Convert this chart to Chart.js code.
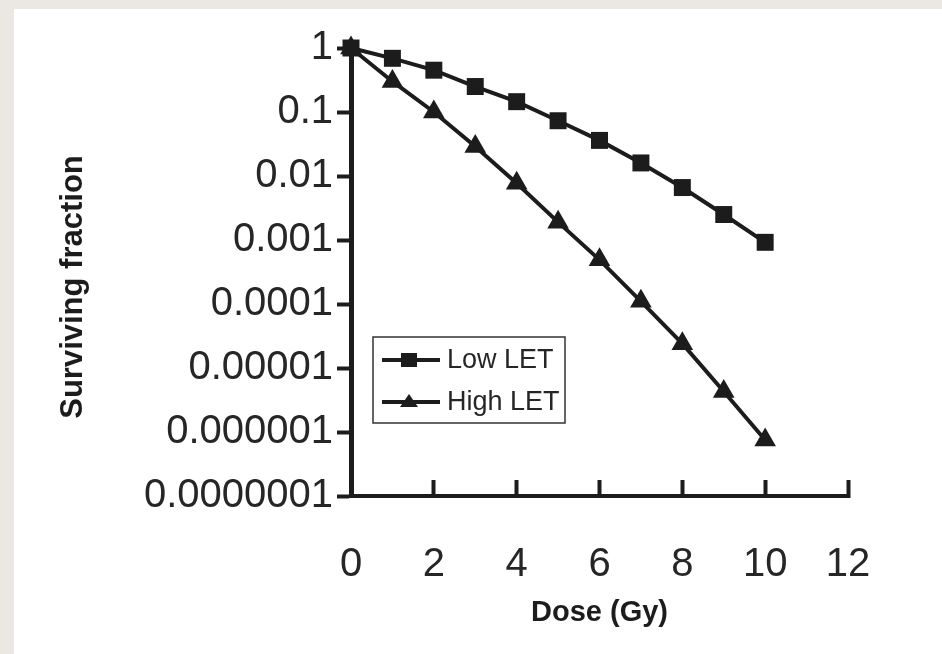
<!DOCTYPE html>
<html>
<head>
<meta charset="utf-8">
<script src="https://cdn.jsdelivr.net/npm/chart.js@4"></script>
<style>
  html, body { margin: 0; padding: 0; background: #ebe8e3; }
  #wrap { position: absolute; left: 14px; top: 9px; width: 928px; height: 645px; background: #fff; }
</style>
</head>
<body>
<div id="wrap"><canvas id="chart"></canvas></div>
<script>
// data
const doses = [0, 1, 2, 3, 4, 5, 6, 7, 8, 9, 10];
const lowLET = [1, 0.69, 0.45, 0.25, 0.145, 0.073, 0.036, 0.016, 0.0066, 0.0025, 0.00092];
const highLET = [1, 0.30, 0.10, 0.029, 0.0077, 0.0019, 0.00049, 0.00011, 0.000024, 0.0000043, 0.00000075];
const seriesNames = ['Low LET', 'High LET'];

const xTicks = [0, 2, 4, 6, 8, 10, 12];
const yTicks = [1, 0.1, 0.01, 0.001, 0.0001, 0.00001, 0.000001, 0.0000001];
const yTickLabels = ['1', '0.1', '0.01', '0.001', '0.0001', '0.00001', '0.000001', '0.0000001'];

const ink = '#1c1c1c';
const textInk = '#262626';
const sans = "'Liberation Sans', Arial, Helvetica, sans-serif";

// legend box sitting inside the plot, plus the rotated y title
const extras = {
  id: 'extras',
  afterDraw(chart) {
    const ctx = chart.ctx;
    const a = chart.chartArea;

    ctx.save();
    ctx.translate(59, (a.top + a.bottom) / 2 + 15);
    ctx.rotate(-Math.PI / 2);
    ctx.fillStyle = ink;
    ctx.font = 'bold 31px ' + sans;
    ctx.textAlign = 'center';
    ctx.textBaseline = 'middle';
    ctx.fillText('Surviving fraction', 0, 0);
    ctx.restore();

    const x0 = a.left + 22, y0 = a.top + 289, w = 192, h = 86;
    ctx.save();
    ctx.fillStyle = '#fff';
    ctx.fillRect(x0, y0, w, h);
    ctx.strokeStyle = '#333';
    ctx.lineWidth = 1.5;
    ctx.strokeRect(x0, y0, w, h);

    chart.data.datasets.forEach((ds, i) => {
      const cy = y0 + 23 + i * 42;
      ctx.strokeStyle = ds.borderColor;
      ctx.lineWidth = 4;
      ctx.beginPath();
      ctx.moveTo(x0 + 9, cy);
      ctx.lineTo(x0 + 67, cy);
      ctx.stroke();
      ctx.fillStyle = ds.backgroundColor;
      const mx = x0 + 36;
      if (ds.pointStyle === 'rect') {
        ctx.fillRect(mx - 8, cy - 7, 16, 14);
      } else {
        ctx.beginPath();
        ctx.moveTo(mx, cy - 8);
        ctx.lineTo(mx + 9, cy + 5);
        ctx.lineTo(mx - 9, cy + 5);
        ctx.closePath();
        ctx.fill();
      }
      ctx.fillStyle = textInk;
      ctx.font = '27px ' + sans;
      ctx.textAlign = 'left';
      ctx.textBaseline = 'middle';
      ctx.fillText(ds.label, x0 + 74, cy + 1);
    });
    ctx.restore();
  }
};

new Chart(document.getElementById('chart'), {
  type: 'line',
  data: {
    datasets: [
      {
        label: seriesNames[0],
        data: doses.map((d, i) => ({ x: d, y: lowLET[i] })),
        borderColor: ink,
        backgroundColor: ink,
        borderWidth: 4,
        pointStyle: 'rect',
        pointRadius: 12,
        pointBorderWidth: 0,
        tension: 0,
        clip: false
      },
      {
        label: seriesNames[1],
        data: doses.map((d, i) => ({ x: d, y: highLET[i] })),
        borderColor: ink,
        backgroundColor: ink,
        borderWidth: 4,
        pointStyle: 'triangle',
        pointRadius: 12.5,
        pointBorderWidth: 0,
        tension: 0,
        clip: false
      }
    ]
  },
  options: {
    responsive: true,
    maintainAspectRatio: false,
    animation: false,
    layout: { padding: { left: 40, top: 39, right: 94, bottom: 24 } },
    plugins: { legend: { display: false }, tooltip: { enabled: false } },
    scales: {
      x: {
        type: 'linear',
        min: 0,
        max: 12,
        afterBuildTicks: s => { s.ticks = xTicks.map(v => ({ value: v })); },
        afterFit: s => { s.height = 134; },
        border: { color: ink, width: 4 },
        grid: { drawOnChartArea: false, tickLength: -16, tickWidth: 4, tickColor: ink },
        ticks: { padding: 61, color: textInk, maxRotation: 0, font: { family: sans, size: 40 } },
        title: { display: true, text: 'Dose (Gy)', color: ink, padding: 0, font: { family: sans, size: 29, weight: 'bold' } }
      },
      y: {
        type: 'logarithmic',
        min: 0.0000001,
        max: 1,
        afterBuildTicks: s => { s.ticks = yTicks.map(v => ({ value: v })); },
        afterFit: s => { s.width = 297; },
        border: { color: ink, width: 5 },
        grid: { drawOnChartArea: false, tickLength: 14, tickWidth: 4, tickColor: ink },
        ticks: {
          padding: 4,
          color: textInk,
          font: { family: sans, size: 40 },
          callback: v => yTickLabels[yTicks.indexOf(v)]
        }
      }
    }
  },
  plugins: [extras]
});
</script>
</body>
</html>
